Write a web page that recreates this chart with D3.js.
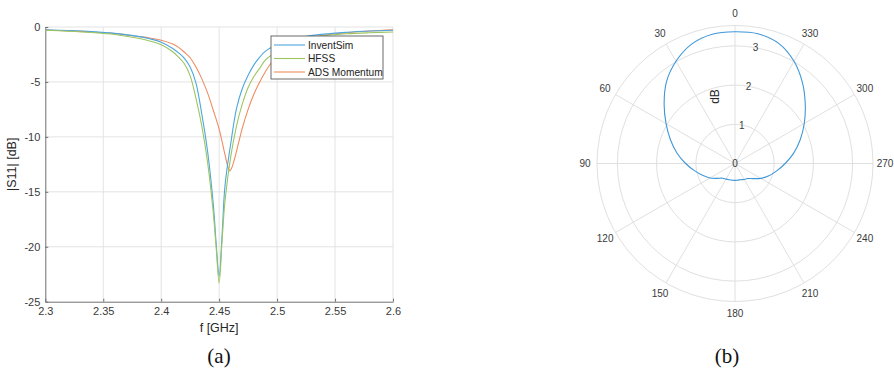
<html>
<head>
<meta charset="utf-8">
<style>
    body { margin: 0; background: #fff; }
    svg text { font-family: "Liberation Sans", Arial, sans-serif; }
    .grid line { stroke: #e3e3e3; stroke-width: 1; }
    .line { fill: none; stroke-width: 1.1; }
    .caption { font-family: "Liberation Serif", "DejaVu Serif", serif !important; font-size: 21px; fill: #111; }
</style>
</head>
<script src="https://d3js.org/d3.v7.min.js"></script>
<body>
    <svg id="chart"></svg>
</body>
<script>
    // ---------- data: (a) |S11|
    let freq      = [2.30, 2.32, 2.34, 2.36, 2.38, 2.39, 2.40, 2.41, 2.415, 2.42, 2.425, 2.43, 2.435, 2.44, 2.445, 2.4475, 2.45, 2.4525, 2.455, 2.46, 2.465, 2.47, 2.475, 2.48, 2.485, 2.49, 2.50, 2.51, 2.52, 2.54, 2.56, 2.58, 2.60];
    let inventSim = [-0.25, -0.32, -0.42, -0.58, -0.85, -1.07, -1.38, -1.95, -2.35, -2.85, -3.65, -5.1, -7.9, -11.3, -16.2, -19.8, -22.7, -19.0, -14.5, -10.6, -7.4, -5.6, -4.4, -3.45, -2.75, -2.2, -1.6, -1.2, -0.95, -0.65, -0.48, -0.37, -0.3];
    let hfss      = [-0.3, -0.38, -0.5, -0.68, -1.02, -1.27, -1.62, -2.25, -2.75, -3.35, -4.45, -6.5, -9.0, -12.3, -17.0, -20.2, -23.3, -19.5, -15.9, -11.8, -9.0, -7.0, -5.5, -4.5, -3.75, -3.0, -2.2, -1.6, -1.2, -0.8, -0.62, -0.52, -0.45];
    let adsFreq   = [2.30, 2.32, 2.34, 2.36, 2.38, 2.39, 2.40, 2.41, 2.415, 2.42, 2.425, 2.43, 2.435, 2.44, 2.445, 2.45, 2.455, 2.4575, 2.459, 2.4605, 2.4625, 2.465, 2.47, 2.475, 2.48, 2.485, 2.49, 2.495, 2.50, 2.51, 2.52, 2.54, 2.56, 2.58, 2.60];
    let adsMom    = [-0.28, -0.35, -0.45, -0.6, -0.86, -1.0, -1.2, -1.55, -1.85, -2.3, -2.8, -3.65, -4.7, -6.0, -7.6, -9.3, -11.6, -12.7, -13.1, -12.9, -12.3, -11.3, -9.2, -7.5, -6.1, -5.0, -4.05, -3.25, -2.65, -1.8, -1.28, -0.75, -0.52, -0.36, -0.25];
    let seriesNames = ['InventSim', 'HFSS', 'ADS Momentum'];
    let seriesColors = ['#4ea6df', '#9cc660', '#ef8c60'];
    let xTicks = [2.3, 2.35, 2.4, 2.45, 2.5, 2.55, 2.6];
    let yTicks = [0, -5, -10, -15, -20, -25];

    // ---------- data: (b) pattern
    let thetaDeg = [0, 10, 20, 30, 40, 50, 60, 70, 80, 90, 100, 110, 120, 130, 140, 150, 160, 170, 180, 190, 200, 210, 220, 230, 240, 250, 260, 270, 280, 290, 300, 310, 320, 330, 340, 350];
    let gainDb   = [3.36, 3.35, 3.24, 3.01, 2.72, 2.36, 2.03, 1.75, 1.50, 1.26, 1.05, 0.88, 0.74, 0.59, 0.49, 0.46, 0.44, 0.43, 0.43, 0.43, 0.44, 0.47, 0.50, 0.60, 0.76, 0.92, 1.08, 1.28, 1.52, 1.77, 2.04, 2.34, 2.68, 3.01, 3.26, 3.36];
    let rTicks = [0, 1, 2, 3];
    let thetaTicks = [0, 30, 60, 90, 120, 150, 180, 210, 240, 270, 300, 330];
    let captions = ['(a)', '(b)'];

    let svg = d3.select('#chart').attr('width', 894).attr('height', 374);

    //line chart: config
    function getLineConfig(){
        let margin = {left: 45.3, top: 27, right: 501, bottom: 72.3};
        let width = 894, height = 374;
        let bodyWidth = width - margin.left - margin.right;
        let bodyHeight = height - margin.top - margin.bottom;
        return {margin, width, height, bodyWidth, bodyHeight};
    }

    function drawLineChart(){
        let config = getLineConfig();
        let {margin, bodyWidth, bodyHeight} = config;

        let xScale = d3.scaleLinear().domain([2.3, 2.6]).range([0, bodyWidth]);
        let yScale = d3.scaleLinear().domain([-25, 0]).range([bodyHeight, 0]);

        let body = svg.append('g')
            .attr('transform', `translate(${margin.left},${margin.top})`);

        // grid
        body.append('g').attr('class', 'grid')
            .selectAll('line').data(xTicks.slice(1)).enter().append('line')
            .attr('x1', d => xScale(d)).attr('x2', d => xScale(d))
            .attr('y1', 0).attr('y2', bodyHeight);
        body.append('g').attr('class', 'grid')
            .selectAll('line').data(yTicks.slice(0, -1)).enter().append('line')
            .attr('x1', 0).attr('x2', bodyWidth)
            .attr('y1', d => yScale(d)).attr('y2', d => yScale(d));

        // axes
        let axisX = d3.axisBottom(xScale).tickValues(xTicks).tickFormat(d3.format('')).tickSizeInner(-3).tickSizeOuter(0).tickPadding(6);
        let gx = body.append('g').attr('transform', `translate(0,${bodyHeight})`).call(axisX);
        let axisY = d3.axisLeft(yScale).tickValues(yTicks).tickSizeInner(-3).tickSizeOuter(0).tickPadding(5);
        let gy = body.append('g').call(axisY);
        [gx, gy].forEach(g => {
            g.select('.domain').attr('stroke', '#707070');
            g.selectAll('.tick line').attr('stroke', '#707070');
            g.selectAll('.tick text').attr('fill', '#3a3a3a').style('font-size', '11px');
        });
        gy.selectAll('.tick text').text(d => d === 0 ? '0' : '-' + Math.abs(d));

        // curves
        let data = [
            freq.map((f, i) => [f, inventSim[i]]),
            freq.map((f, i) => [f, hfss[i]]),
            adsFreq.map((f, i) => [f, adsMom[i]])
        ];
        let lineG = d3.line()
            .x(d => xScale(d[0]))
            .y(d => yScale(d[1]))
            .curve(d3.curveCatmullRom.alpha(0.5));
        [2, 0, 1].forEach(i => {
            body.append('path').datum(data[i])
                .attr('class', 'line')
                .attr('stroke', seriesColors[i])
                .attr('d', lineG);
        });

        // labels
        body.append('text')
            .attr('x', bodyWidth / 2).attr('y', bodyHeight + 30)
            .attr('text-anchor', 'middle').attr('fill', '#262626')
            .style('font-size', '12.5px').text('f [GHz]');
        body.append('text')
            .attr('transform', `translate(${-29},${bodyHeight / 2}) rotate(-90)`)
            .attr('text-anchor', 'middle').attr('fill', '#262626')
            .style('font-size', '12.5px').text('|S11| [dB]');

        // legend
        let legend = svg.append('g').attr('transform', 'translate(271,36)');
        legend.append('rect').attr('width', 112).attr('height', 43)
            .attr('fill', '#fff').attr('stroke', '#5a5a5a').attr('stroke-width', 0.9);
        seriesNames.forEach((name, i) => {
            let y = 9 + i * 13.5;
            legend.append('line').attr('x1', 3).attr('x2', 34).attr('y1', y).attr('y2', y)
                .attr('stroke', seriesColors[i]).attr('stroke-width', 1.1);
            legend.append('text').attr('x', 37).attr('y', y + 3.6)
                .attr('fill', '#222').style('font-size', '10.2px').text(name);
        });
    }

    //polar chart
    function drawPolarChart(){
        let cx = 735, cy = 163.5, outer = 138;
        let rScale = d3.scaleLinear().domain([0, 3.52]).range([0, outer]);
        let g = svg.append('g').attr('transform', `translate(${cx},${cy})`);

        // rings
        g.selectAll('.ring').data(rTicks.slice(1).concat([3.52])).enter().append('circle')
            .attr('r', d => rScale(d))
            .attr('fill', 'none').attr('stroke', '#e0e0e0').attr('stroke-width', 1);

        // spokes (theta counter clockwise, zero at top)
        let toXY = (deg, r) => {
            let a = deg * Math.PI / 180;
            return [-r * Math.sin(a), -r * Math.cos(a)];
        };
        g.selectAll('.spoke').data(thetaTicks).enter().append('line')
            .attr('x1', 0).attr('y1', 0)
            .attr('x2', d => toXY(d, outer)[0])
            .attr('y2', d => toXY(d, outer)[1])
            .attr('stroke', '#e0e0e0').attr('stroke-width', 1);

        g.selectAll('.tlabel').data(thetaTicks).enter().append('text')
            .attr('x', d => toXY(d, 150)[0])
            .attr('y', d => toXY(d, 150)[1] + 3.6)
            .attr('text-anchor', 'middle').attr('fill', '#3a3a3a')
            .style('font-size', '10px').text(d => d);

        // radial tick labels along 10 deg (clockwise from top)
        g.selectAll('.rlabel').data(rTicks).enter().append('text')
            .attr('x', d => toXY(-10, rScale(d))[0])
            .attr('y', d => toXY(-10, rScale(d))[1] + 3.6)
            .attr('text-anchor', 'middle').attr('fill', '#3a3a3a')
            .style('font-size', '10px').text(d => d);

        g.append('text')
            .attr('transform', 'translate(-16,-67) rotate(-90)')
            .attr('text-anchor', 'middle').attr('fill', '#262626')
            .style('font-size', '12px').text('dB');

        let pts = thetaDeg.map((t, i) => [t, gainDb[i]]);
        let radial = d3.lineRadial()
            .angle(d => -d[0] * Math.PI / 180)
            .radius(d => rScale(d[1]))
            .curve(d3.curveCatmullRomClosed);
        g.append('path').datum(pts)
            .attr('d', radial)
            .attr('fill', 'none').attr('stroke', '#3f97d8').attr('stroke-width', 1.1);
    }

    drawLineChart();
    drawPolarChart();

    svg.selectAll('.caption').data(captions).enter().append('text')
        .attr('class', 'caption')
        .attr('x', (d, i) => i === 0 ? 219 : 727)
        .attr('y', 363)
        .attr('text-anchor', 'middle')
        .text(d => d);
</script>
</html>
